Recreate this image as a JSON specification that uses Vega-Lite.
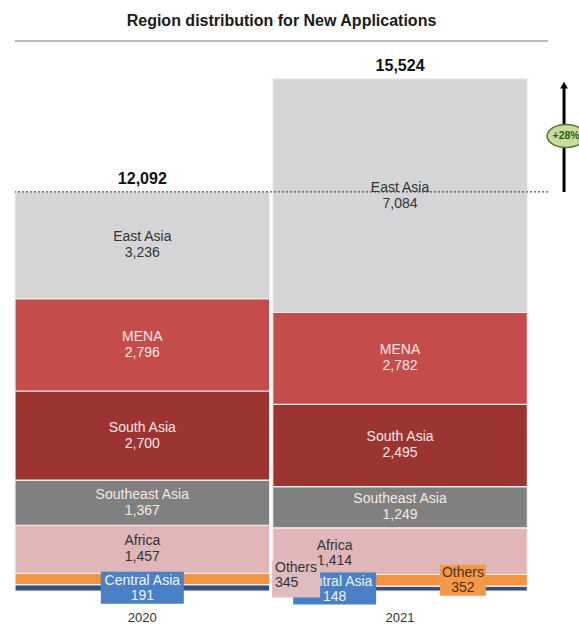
{
  "$schema": "https://vega.github.io/schema/vega-lite/v6.json",
  "width": 533,
  "height": 550,
  "autosize": {"type": "none"},
  "padding": {"left": 15, "top": 41, "right": 31, "bottom": 37},
  "background": "white",
  "config": {"view": {"stroke": null}, "font": "Liberation Sans"},
  "title": {"text": "Region distribution for New Applications", "fontSize": 16, "fontWeight": "bold", "color": "#1a1a1a", "anchor": "middle", "offset": 11},
  "data": {"values": [
    {"year": "2020", "region": "Central Asia", "value": 191, "rank": 1},
    {"year": "2020", "region": "Others", "value": 345, "rank": 2},
    {"year": "2020", "region": "Africa", "value": 1457, "rank": 3},
    {"year": "2020", "region": "Southeast Asia", "value": 1367, "rank": 4},
    {"year": "2020", "region": "South Asia", "value": 2700, "rank": 5},
    {"year": "2020", "region": "MENA", "value": 2796, "rank": 6},
    {"year": "2020", "region": "East Asia", "value": 3236, "rank": 7},
    {"year": "2021", "region": "Central Asia", "value": 148, "rank": 1},
    {"year": "2021", "region": "Others", "value": 352, "rank": 2},
    {"year": "2021", "region": "Africa", "value": 1414, "rank": 3},
    {"year": "2021", "region": "Southeast Asia", "value": 1249, "rank": 4},
    {"year": "2021", "region": "South Asia", "value": 2495, "rank": 5},
    {"year": "2021", "region": "MENA", "value": 2782, "rank": 6},
    {"year": "2021", "region": "East Asia", "value": 7084, "rank": 7}
  ]},
  "layer": [
    {
      "mark": {"type": "bar", "stroke": "#f6eeee", "strokeWidth": 1.2},
      "encoding": {
        "x": {"field": "year", "type": "nominal", "scale": {"domain": ["2020", "2021"], "paddingInner": 0.012, "paddingOuter": 0.04, "align": 0},
          "axis": {"title": null, "labelAngle": 0, "domain": false, "ticks": false, "tickSize": 0, "labelPadding": 20, "labelFontSize": 13, "labelColor": "#333333"}},
        "y": {"field": "value", "type": "quantitative", "stack": "zero", "scale": {"domain": [0, 16667], "nice": false}, "axis": null},
        "color": {"field": "region", "type": "nominal", "legend": null,
          "scale": {"domain": ["Central Asia", "Others", "Africa", "Southeast Asia", "South Asia", "MENA", "East Asia"],
                    "range": ["#34507c", "#f29441", "#e0b6b8", "#808080", "#9c3432", "#c44d4b", "#d5d5d8"]}},
        "order": {"field": "rank", "type": "quantitative"}
      }
    },
    {
      "data": {"values": [{"level": 16667}]},
      "mark": {"type": "rule", "color": "#a3a3a3", "strokeWidth": 1.5},
      "encoding": {
        "y": {"field": "level", "type": "quantitative"}
      }
    },
    {
      "data": {"values": [{"level": 12092}]},
      "mark": {"type": "rule", "color": "#555555", "strokeWidth": 1.2, "strokeDash": [2, 2]},
      "encoding": {
        "y": {"field": "level", "type": "quantitative"}
      }
    },
    {
      "data": {"values": [{"year": "2021", "low": 12092, "high": 15250}]},
      "mark": {"type": "rule", "color": "#000000", "strokeWidth": 3},
      "encoding": {
        "x": {"field": "year", "type": "nominal", "bandPosition": 1.144},
        "y": {"field": "low", "type": "quantitative"},
        "y2": {"field": "high"}
      }
    },
    {
      "data": {"values": [{"year": "2021", "level": 15330}]},
      "mark": {"type": "point", "shape": "triangle-up", "filled": true, "color": "#000000", "size": 60, "opacity": 1},
      "encoding": {
        "x": {"field": "year", "type": "nominal", "bandPosition": 1.144},
        "y": {"field": "level", "type": "quantitative"}
      }
    },
    {
      "data": {"values": [{"year": "2021", "level": 13788}]},
      "mark": {"type": "point", "shape": "M-1,0A1,0.6 0 1,0 1,0A1,0.6 0 1,0 -1,0Z", "filled": true, "fill": "#c8dca0", "stroke": "#56752f", "strokeWidth": 1.5, "size": 1444, "opacity": 1},
      "encoding": {
        "x": {"field": "year", "type": "nominal", "bandPosition": 1.152},
        "y": {"field": "level", "type": "quantitative"}
      }
    },
    {
      "data": {"values": [{"year": "2021", "level": 13788, "label": "+28%"}]},
      "mark": {"type": "text", "fontSize": 10.5, "fontWeight": "bold", "color": "#2e5a16", "align": "center", "baseline": "middle"},
      "encoding": {
        "x": {"field": "year", "type": "nominal", "bandPosition": 1.152},
        "y": {"field": "level", "type": "quantitative"},
        "text": {"field": "label", "type": "nominal"}
      }
    },
    {
      "mark": {"type": "text", "fontSize": 14, "baseline": "middle", "dy": -8},
      "encoding": {
        "x": {"field": "year", "type": "nominal"},
        "y": {"field": "value", "type": "quantitative", "stack": "zero", "bandPosition": 0.5},
        "order": {"field": "rank", "type": "quantitative"},
        "detail": {"field": "region", "type": "nominal"},
        "text": {"condition": {"test": "datum.rank >= 3 && !(datum.year === '2021' && datum.rank === 3)", "field": "region", "type": "nominal"}, "value": ""},
        "color": {"condition": {"test": "datum.rank >= 4 && datum.rank <= 6", "value": "#f7e7e7"}, "value": "#333333"}
      }
    },
    {
      "mark": {"type": "text", "fontSize": 14, "baseline": "middle", "dy": 8},
      "encoding": {
        "x": {"field": "year", "type": "nominal"},
        "y": {"field": "value", "type": "quantitative", "stack": "zero", "bandPosition": 0.5},
        "order": {"field": "rank", "type": "quantitative"},
        "detail": {"field": "region", "type": "nominal"},
        "text": {"condition": {"test": "datum.rank >= 3 && !(datum.year === '2021' && datum.rank === 3)", "field": "value", "type": "quantitative", "format": ","}, "value": ""},
        "color": {"condition": {"test": "datum.rank >= 4 && datum.rank <= 6", "value": "#f7e7e7"}, "value": "#333333"}
      }
    },
    {
      "mark": {"type": "text", "fontSize": 16, "fontWeight": "bold", "baseline": "bottom", "dy": -5, "color": "#111111"},
      "transform": [{"aggregate": [{"op": "sum", "field": "value", "as": "total"}], "groupby": ["year"]}],
      "encoding": {
        "x": {"field": "year", "type": "nominal"},
        "y": {"field": "total", "type": "quantitative"},
        "text": {"field": "total", "type": "quantitative", "format": ","}
      }
    },
    {
      "transform": [{"filter": {"field": "year", "equal": "2021"}}],
      "mark": {"type": "text", "fontSize": 14, "baseline": "middle", "dy": -5, "color": "#333333"},
      "encoding": {
        "x": {"field": "year", "type": "nominal", "bandPosition": 0.243},
        "y": {"field": "value", "type": "quantitative", "stack": "zero", "bandPosition": 0.5},
        "order": {"field": "rank", "type": "quantitative"},
        "detail": {"field": "region", "type": "nominal"},
        "text": {"condition": {"test": "datum.rank === 3", "field": "region", "type": "nominal"}, "value": ""}
      }
    },
    {
      "transform": [{"filter": {"field": "year", "equal": "2021"}}],
      "mark": {"type": "text", "fontSize": 14, "baseline": "middle", "dy": 10, "color": "#333333"},
      "encoding": {
        "x": {"field": "year", "type": "nominal", "bandPosition": 0.243},
        "y": {"field": "value", "type": "quantitative", "stack": "zero", "bandPosition": 0.5},
        "order": {"field": "rank", "type": "quantitative"},
        "detail": {"field": "region", "type": "nominal"},
        "text": {"condition": {"test": "datum.rank === 3", "field": "value", "type": "quantitative", "format": ","}, "value": ""}
      }
    },
    {
      "transform": [{"filter": {"field": "year", "equal": "2020"}}],
      "mark": {"type": "point", "shape": "M-1,-0.386H1V0.386H-1Z", "filled": true, "fill": "#4a80c4", "size": 6889, "strokeWidth": 0},
      "encoding": {
        "x": {"field": "year", "type": "nominal", "bandPosition": 0.5},
        "y": {"field": "value", "type": "quantitative", "stack": "zero", "bandPosition": 0.5},
        "order": {"field": "rank", "type": "quantitative"},
        "detail": {"field": "region", "type": "nominal"},
        "opacity": {"condition": {"test": "datum.rank === 1", "value": 1}, "value": 0}
      }
    },
    {
      "transform": [{"filter": {"field": "year", "equal": "2020"}}],
      "mark": {"type": "text", "fontSize": 14, "baseline": "middle", "dy": -7, "color": "#eef4ff"},
      "encoding": {
        "x": {"field": "year", "type": "nominal", "bandPosition": 0.5},
        "y": {"field": "value", "type": "quantitative", "stack": "zero", "bandPosition": 0.5},
        "order": {"field": "rank", "type": "quantitative"},
        "detail": {"field": "region", "type": "nominal"},
        "text": {"condition": {"test": "datum.rank === 1", "field": "region", "type": "nominal"}, "value": ""}
      }
    },
    {
      "transform": [{"filter": {"field": "year", "equal": "2020"}}],
      "mark": {"type": "text", "fontSize": 14, "baseline": "middle", "dy": 8, "color": "#eef4ff"},
      "encoding": {
        "x": {"field": "year", "type": "nominal", "bandPosition": 0.5},
        "y": {"field": "value", "type": "quantitative", "stack": "zero", "bandPosition": 0.5},
        "order": {"field": "rank", "type": "quantitative"},
        "detail": {"field": "region", "type": "nominal"},
        "text": {"condition": {"test": "datum.rank === 1", "field": "value", "type": "quantitative", "format": ","}, "value": ""}
      }
    },
    {
      "transform": [{"filter": {"field": "year", "equal": "2021"}}],
      "mark": {"type": "point", "shape": "M-1,-0.386H1V0.386H-1Z", "filled": true, "fill": "#4a80c4", "size": 6889, "strokeWidth": 0},
      "encoding": {
        "x": {"field": "year", "type": "nominal", "bandPosition": 0.243},
        "y": {"field": "value", "type": "quantitative", "stack": "zero", "bandPosition": 0.5},
        "order": {"field": "rank", "type": "quantitative"},
        "detail": {"field": "region", "type": "nominal"},
        "opacity": {"condition": {"test": "datum.rank === 1", "value": 1}, "value": 0}
      }
    },
    {
      "transform": [{"filter": {"field": "year", "equal": "2021"}}],
      "mark": {"type": "text", "fontSize": 14, "baseline": "middle", "dy": -7, "color": "#eef4ff"},
      "encoding": {
        "x": {"field": "year", "type": "nominal", "bandPosition": 0.243},
        "y": {"field": "value", "type": "quantitative", "stack": "zero", "bandPosition": 0.5},
        "order": {"field": "rank", "type": "quantitative"},
        "detail": {"field": "region", "type": "nominal"},
        "text": {"condition": {"test": "datum.rank === 1", "field": "region", "type": "nominal"}, "value": ""}
      }
    },
    {
      "transform": [{"filter": {"field": "year", "equal": "2021"}}],
      "mark": {"type": "text", "fontSize": 14, "baseline": "middle", "dy": 8, "color": "#eef4ff"},
      "encoding": {
        "x": {"field": "year", "type": "nominal", "bandPosition": 0.243},
        "y": {"field": "value", "type": "quantitative", "stack": "zero", "bandPosition": 0.5},
        "order": {"field": "rank", "type": "quantitative"},
        "detail": {"field": "region", "type": "nominal"},
        "text": {"condition": {"test": "datum.rank === 1", "field": "value", "type": "quantitative", "format": ","}, "value": ""}
      }
    },
    {
      "transform": [{"filter": {"field": "year", "equal": "2021"}}],
      "mark": {"type": "point", "shape": "M-1,-0.674H1V0.674H-1Z", "filled": true, "fill": "#f29a4a", "size": 2116, "strokeWidth": 0},
      "encoding": {
        "x": {"field": "year", "type": "nominal", "bandPosition": 0.747},
        "y": {"field": "value", "type": "quantitative", "stack": "zero", "bandPosition": 0.5},
        "order": {"field": "rank", "type": "quantitative"},
        "detail": {"field": "region", "type": "nominal"},
        "opacity": {"condition": {"test": "datum.rank === 2", "value": 1}, "value": 0}
      }
    },
    {
      "transform": [{"filter": {"field": "year", "equal": "2021"}}],
      "mark": {"type": "text", "fontSize": 14, "baseline": "middle", "dy": -7, "color": "#5a2d0a"},
      "encoding": {
        "x": {"field": "year", "type": "nominal", "bandPosition": 0.747},
        "y": {"field": "value", "type": "quantitative", "stack": "zero", "bandPosition": 0.5},
        "order": {"field": "rank", "type": "quantitative"},
        "detail": {"field": "region", "type": "nominal"},
        "text": {"condition": {"test": "datum.rank === 2", "field": "region", "type": "nominal"}, "value": ""}
      }
    },
    {
      "transform": [{"filter": {"field": "year", "equal": "2021"}}],
      "mark": {"type": "text", "fontSize": 14, "baseline": "middle", "dy": 8, "color": "#5a2d0a"},
      "encoding": {
        "x": {"field": "year", "type": "nominal", "bandPosition": 0.747},
        "y": {"field": "value", "type": "quantitative", "stack": "zero", "bandPosition": 0.5},
        "order": {"field": "rank", "type": "quantitative"},
        "detail": {"field": "region", "type": "nominal"},
        "text": {"condition": {"test": "datum.rank === 2", "field": "value", "type": "quantitative", "format": ","}, "value": ""}
      }
    },
    {
      "transform": [{"filter": {"field": "year", "equal": "2020"}}],
      "mark": {"type": "point", "shape": "M-1,-0.77H1V0.77H-1Z", "filled": true, "fill": "#dfbcbe", "size": 2304, "strokeWidth": 0},
      "encoding": {
        "x": {"field": "year", "type": "nominal", "bandPosition": 1.104},
        "y": {"field": "value", "type": "quantitative", "stack": "zero", "bandPosition": 0.5},
        "order": {"field": "rank", "type": "quantitative"},
        "detail": {"field": "region", "type": "nominal"},
        "opacity": {"condition": {"test": "datum.rank === 2", "value": 1}, "value": 0}
      }
    },
    {
      "transform": [{"filter": {"field": "year", "equal": "2020"}}],
      "mark": {"type": "text", "fontSize": 14, "align": "left", "baseline": "middle", "dy": -11, "color": "#333333"},
      "encoding": {
        "x": {"field": "year", "type": "nominal", "bandPosition": 1.021},
        "y": {"field": "value", "type": "quantitative", "stack": "zero", "bandPosition": 0.5},
        "order": {"field": "rank", "type": "quantitative"},
        "detail": {"field": "region", "type": "nominal"},
        "text": {"condition": {"test": "datum.rank === 2", "field": "region", "type": "nominal"}, "value": ""}
      }
    },
    {
      "transform": [{"filter": {"field": "year", "equal": "2020"}}],
      "mark": {"type": "text", "fontSize": 14, "align": "left", "baseline": "middle", "dy": 4, "color": "#333333"},
      "encoding": {
        "x": {"field": "year", "type": "nominal", "bandPosition": 1.021},
        "y": {"field": "value", "type": "quantitative", "stack": "zero", "bandPosition": 0.5},
        "order": {"field": "rank", "type": "quantitative"},
        "detail": {"field": "region", "type": "nominal"},
        "text": {"condition": {"test": "datum.rank === 2", "field": "value", "type": "quantitative", "format": ","}, "value": ""}
      }
    }
  ]
}
